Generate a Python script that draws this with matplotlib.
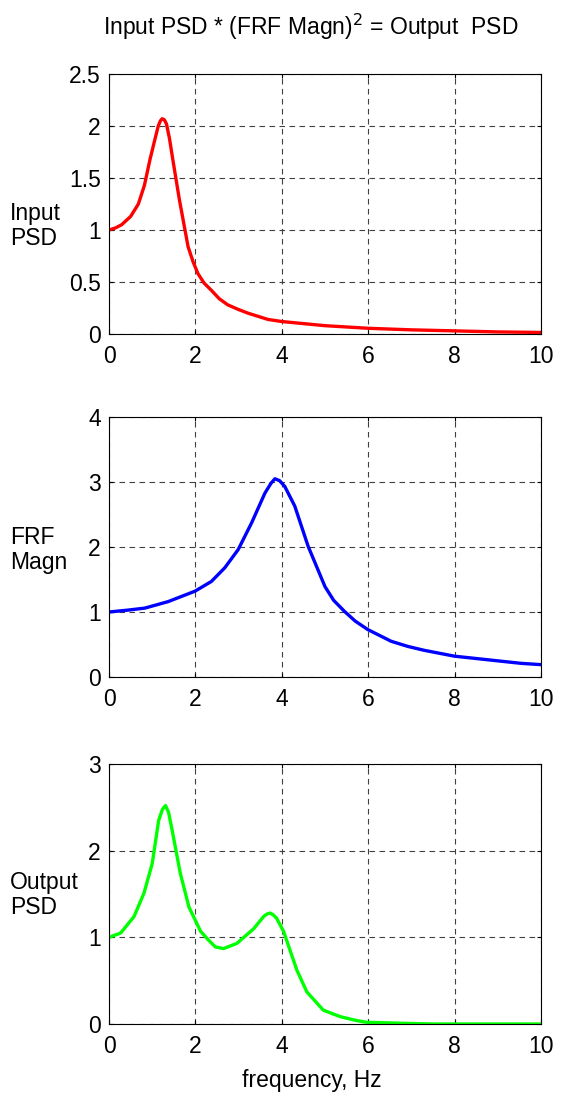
import matplotlib
matplotlib.use("Agg")
import matplotlib.pyplot as plt
import numpy as np

plt.rcParams["font.family"] = ["Liberation Sans", "DejaVu Sans"]

# values
f_in = [0, 0.15, 0.29, 0.5, 0.68, 0.82, 0.95, 1.05, 1.14, 1.19, 1.23, 1.28, 1.33, 1.4, 1.48, 1.63, 1.83,
        1.95, 2.06, 2.2, 2.37, 2.55, 2.75, 3.0, 3.22, 3.68, 4.0, 4.5, 5.0, 6.0, 7.0, 8.0, 9.0, 10.0]
input_psd = [1.0, 1.02, 1.05, 1.13, 1.25, 1.43, 1.68, 1.85, 2.0, 2.05, 2.07, 2.06, 2.02, 1.88, 1.67, 1.29, 0.84,
             0.69, 0.58, 0.49, 0.42, 0.34, 0.28, 0.235, 0.20, 0.14, 0.12, 0.10, 0.08, 0.055, 0.04, 0.03, 0.02, 0.015]

f_frf = [0, 0.45, 0.83, 1.37, 1.99, 2.37, 2.68, 2.99, 3.30, 3.61, 3.75, 3.84, 3.95, 4.07, 4.30, 4.61, 5.0,
         5.2, 5.45, 5.7, 5.99, 6.53, 6.92, 7.30, 8.0, 8.84, 9.54, 10.0]
frf_magn = [1.0, 1.03, 1.06, 1.16, 1.32, 1.47, 1.68, 1.96, 2.37, 2.83, 2.98, 3.05, 3.02, 2.93, 2.63, 2.01, 1.39,
            1.18, 1.01, 0.86, 0.73, 0.55, 0.47, 0.41, 0.32, 0.26, 0.21, 0.19]

f_out = [0, 0.27, 0.58, 0.81, 1.0, 1.15, 1.24, 1.31, 1.38, 1.46, 1.65, 1.85, 2.12, 2.3, 2.46, 2.65, 2.96,
         3.35, 3.58, 3.66, 3.73, 3.8, 3.88, 4.04, 4.35, 4.58, 4.96, 5.35, 5.73, 5.96, 6.8, 7.5, 10.0]
output_psd = [1.0, 1.05, 1.24, 1.51, 1.85, 2.35, 2.48, 2.52, 2.44, 2.24, 1.74, 1.35, 1.07, 0.97, 0.89, 0.87, 0.93,
              1.10, 1.24, 1.27, 1.28, 1.26, 1.22, 1.07, 0.62, 0.37, 0.16, 0.085, 0.04, 0.02, 0.008, 0.0, 0.0]

panels = [
    (f_in, input_psd, "red", [0, 2.5], np.arange(0, 2.51, 0.5), ["0", "0.5", "1", "1.5", "2", "2.5"], "Input\nPSD"),
    (f_frf, frf_magn, "blue", [0, 4], [0, 1, 2, 3, 4], ["0", "1", "2", "3", "4"], "FRF\nMagn"),
    (f_out, output_psd, "#00ff00", [0, 3], [0, 1, 2, 3], ["0", "1", "2", "3"], "Output\nPSD"),
]
xticks = [0, 2, 4, 6, 8, 10]

W, H = 561, 1106
fig = plt.figure(figsize=(W / 100, H / 100), dpi=100)

bottoms = [772, 429, 82]
label_y = [226, 550, 895]
for (x, y, c, ylim, yt, ytl, lab), b, ly in zip(panels, bottoms, label_y):
    ax = fig.add_axes([109 / W, b / H, 432 / W, 260 / H])
    ax.plot(x, y, color=c, lw=2.4)
    ax.set_xlim(0, 10)
    ax.set_ylim(ylim)
    ax.set_xticks(xticks)
    ax.set_xticklabels([str(t) for t in xticks])
    ax.set_yticks(yt)
    ax.set_yticklabels(ytl)
    ax.grid(True, color="#404040", linestyle=(0, (5, 4)), linewidth=0.8)
    ax.tick_params(direction="in", length=3, labelsize=16.5, top=True, right=True)
    ax.tick_params(axis="x", pad=8)
    ax.tick_params(axis="y", pad=6)
    for s in ax.spines.values():
        s.set_linewidth(0.8)
    fig.text(10 / W, 1 - ly / H, lab, fontsize=16.5, ha="left", va="center", linespacing=1.15)

fig.text(311 / W, 1 - 27 / H, r"Input PSD * (FRF Magn)$^2$ = Output  PSD", fontsize=16.5,
         ha="center", va="center")
fig.text(312 / W, 1 - 1081 / H, "frequency, Hz", fontsize=16.5, ha="center", va="center")

fig.savefig("out.png", dpi=100)
